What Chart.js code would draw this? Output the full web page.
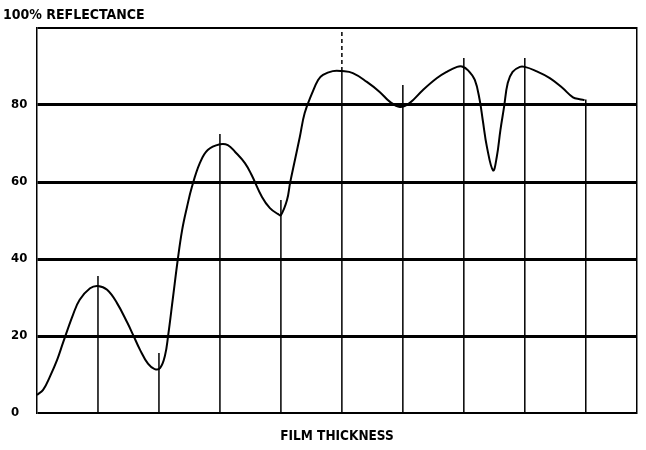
<!DOCTYPE html>
<html>
<head>
<meta charset="utf-8">
<script src="https://cdn.jsdelivr.net/npm/chart.js@4/dist/chart.umd.min.js"></script>
<style>
  html, body { margin: 0; padding: 0; background: #fff; }
  canvas { display: block; }
</style>
</head>
<body>
<canvas id="c" width="646" height="450"></canvas>
<script>
// Curve: film thickness (arbitrary units) vs reflectance (%)
const thickness = [0, 0.1, 0.21, 0.33, 0.43, 0.59, 0.7, 0.87, 1.0, 1.15, 1.31, 1.48, 1.57, 1.69, 1.82, 1.93, 2.02, 2.1, 2.15, 2.23, 2.31, 2.38, 2.46, 2.54, 2.67, 2.8, 3.0, 3.13, 3.25, 3.41, 3.52, 3.69, 3.82, 3.95, 4.0, 4.1, 4.15, 4.23, 4.31, 4.39, 4.51, 4.61, 4.69, 4.85, 5.0, 5.18, 5.41, 5.62, 5.79, 5.95, 6.11, 6.33, 6.56, 6.72, 6.89, 6.97, 7.07, 7.18, 7.26, 7.31, 7.38, 7.48, 7.54, 7.6, 7.66, 7.72, 7.8, 7.92, 8.0, 8.16, 8.41, 8.62, 8.79, 8.9, 8.98];
const reflectance = [4.7, 6, 9.4, 13.8, 18.4, 25.5, 29.4, 32.4, 33, 32, 28.6, 23.5, 20.5, 16.4, 12.8, 11.4, 11.7, 15, 20, 30, 40, 47.5, 53.5, 58.7, 64.9, 68.3, 69.8, 69.6, 67.8, 64.9, 61.8, 56.1, 53.2, 51.7, 51.4, 55.3, 59.7, 65.7, 71.7, 77.9, 83, 86.5, 87.8, 88.8, 88.8, 88.3, 86, 83.4, 80.8, 79.5, 80.5, 83.9, 87, 88.6, 89.9, 90, 89, 86.5, 81.3, 76.1, 69, 63, 66.5, 73.5, 79.5, 85.7, 88.6, 89.9, 89.9, 89, 87, 84.4, 82, 81.5, 81.3];

// Vertical marker lines (drop lines) at each thickness step
const markerX = [1, 2, 3, 4, 5, 6, 7, 8, 9];
const markerTop = [35.6, 15.6, 72.5, 55.3, 88.8, 85.2, 92.2, 92.2, 81.4];
// dashed extension of the marker at x=5 up to 100%
const dashedX = [5];
const dashedFrom = [88.8];
const dashedTo = [100];

const yTicks = [0, 20, 40, 60, 80, 100];
const xMax = 9.84;

const curveData = thickness.map((x, i) => ({ x: x, y: reflectance[i] }));
const markerData = [];
markerX.forEach((x, i) => {
  markerData.push({ x: x, y: 0 }, { x: x, y: markerTop[i] }, { x: x, y: null });
});
const dashedData = [];
dashedX.forEach((x, i) => {
  dashedData.push({ x: x, y: dashedFrom[i] }, { x: x, y: dashedTo[i] }, { x: x, y: null });
});

const FONT = "'DejaVu Sans Condensed', 'Liberation Sans Narrow', sans-serif";

const nudge = {
  id: 'nudge',
  beforeDraw(chart) {
    if (chart.titleBlock) chart.titleBlock.left = 3;
  }
};

new Chart(document.getElementById('c'), {
  type: 'line',
  data: {
    datasets: [
      {
        data: curveData,
        borderColor: '#000',
        borderWidth: 2,
        pointRadius: 0,
        tension: 0.4,
        fill: false
      },
      {
        data: markerData,
        borderColor: '#000',
        borderWidth: 1.5,
        pointRadius: 0,
        spanGaps: false,
        tension: 0,
        fill: false
      },
      {
        data: dashedData,
        borderColor: '#000',
        borderWidth: 1.5,
        borderDash: [4, 3],
        pointRadius: 0,
        spanGaps: false,
        tension: 0,
        fill: false
      }
    ]
  },
  options: {
    responsive: false,
    animation: false,
    devicePixelRatio: 1,
    layout: { padding: { left: 11, right: 9, top: 0, bottom: 0 } },
    plugins: {
      legend: { display: false },
      tooltip: { enabled: false },
      title: {
        display: true,
        text: '100% REFLECTANCE',
        align: 'start',
        color: '#000',
        font: { family: FONT, size: 14, weight: 'bold' },
        padding: { top: 7, bottom: 4.2 }
      }
    },
    scales: {
      x: {
        type: 'linear',
        min: 0,
        max: xMax,
        ticks: { display: false },
        grid: { display: false },
        border: { display: false },
        title: {
          display: true,
          text: 'FILM THICKNESS',
          color: '#000',
          font: { family: FONT, size: 13.5, weight: 'bold' },
          padding: { top: 0, bottom: 5 }
        },
        afterFit(scale) { scale.height = 37; }
      },
      y: {
        type: 'linear',
        min: 0,
        max: 100,
        afterBuildTicks(scale) { scale.ticks = yTicks.map(v => ({ value: v })); },
        ticks: {
          crossAlign: 'far',
          color: '#000',
          font: { family: FONT, size: 13, weight: 'bold' },
          callback: (v) => (v === 100 ? '' : String(v))
        },
        grid: {
          color: '#000',
          drawTicks: false,
          lineWidth: (ctx) => (ctx.tick && (ctx.tick.value === 0 || ctx.tick.value === 100) ? 2 : 3)
        },
        border: { display: true, color: '#000', width: 1.5 },
        afterFit(scale) { scale.width = 26; }
      },
      yR: {
        type: 'linear',
        position: 'right',
        min: 0,
        max: 100,
        ticks: { display: false },
        grid: { display: false },
        border: { display: true, color: '#000', width: 1.5 },
        afterFit(scale) { scale.width = 0; }
      }
    }
  },
  plugins: [nudge]
});
</script>
</body>
</html>
